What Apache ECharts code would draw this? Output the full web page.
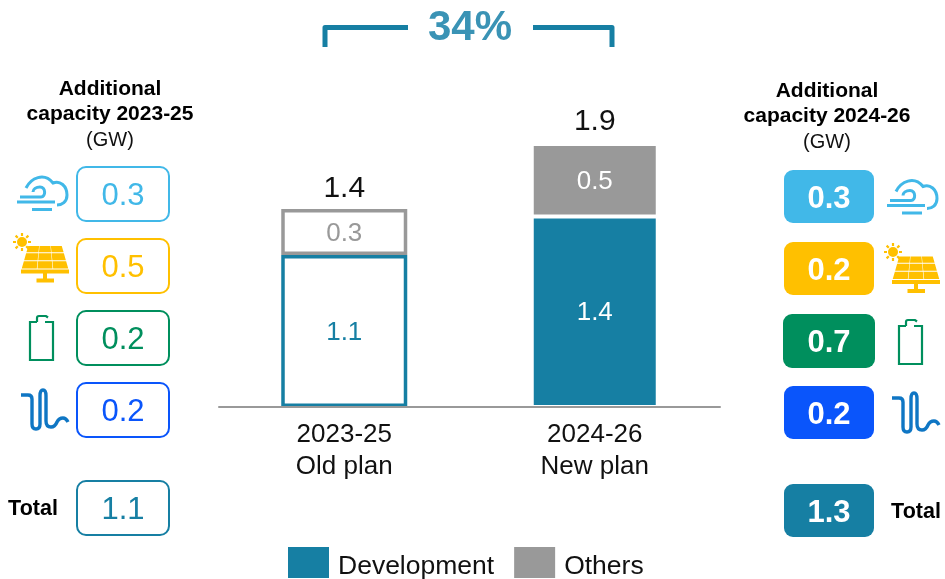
<!DOCTYPE html>
<html><head><meta charset="utf-8">
<style>html,body{margin:0;padding:0;background:#fff}#c{width:945px;height:579px}</style>
<script src="https://cdn.jsdelivr.net/npm/echarts@6/dist/echarts.min.js"></script>
</head><body><div id="c"></div>
<script>
const categories = ['2023-25\nOld plan', '2024-26\nNew plan'];
const development = [1.11, 1.39];
const others = [0.335, 0.53];
const totals = [1.445, 1.92];
const growthLabel = '34%';
const leftValues = ['0.3', '0.5', '0.2', '0.2', '1.1'];
const rightValues = ['0.3', '0.2', '0.7', '0.2', '1.3'];
const techColors = ['#41b8e8', '#ffc000', '#008f5d', '#0a55fb', '#167fa3'];
const leftTitle = ['Additional', 'capacity 2023-25', '(GW)'];
const rightTitle = ['Additional', 'capacity 2024-26', '(GW)'];
const totalLabel = 'Total';

const TEAL = '#167fa3', GREY = '#999999', FONT = '"Liberation Sans", Arial, sans-serif';
const g = [];
function txt(text, x, y, size, fill, weight) {
  g.push({type:'text', silent:true, style:{text, x, y, align:'center', verticalAlign:'middle',
    font:(weight||'normal')+' '+size+'px '+FONT, fill}});
}
let iconCount = 0;
const iconTypes = {};
function icon(d, dx, dy, style) {
  if (!iconTypes[d]) {
    iconTypes[d] = 'resketchIcon' + (iconCount++);
    echarts.graphic.registerShape(iconTypes[d], echarts.graphic.extendPath(d, {}));
  }
  g.push({type:iconTypes[d], silent:true, x:dx, y:dy, shape:{}, style});
}
const leftY = [167, 239, 311, 383, 481];
const rightY = [170, 242, 314, 386, 484];
leftValues.forEach((v, i) => {
  g.push({type:'rect', silent:true, shape:{x:77, y:leftY[i], width:92, height:54, r:9},
    style:{fill:'#fff', stroke:techColors[i], lineWidth:2}});
  txt(v, 123, leftY[i]+29, 31, techColors[i]);
});
rightValues.forEach((v, i) => {
  const big = i === 2;
  g.push({type:'rect', silent:true, shape:{x:big?783:784, y:rightY[i], width:big?92:90, height:big?54:53, r:9},
    style:{fill:techColors[i]}});
  txt(v, 829, rightY[i]+29.5, 31, '#fff', 'bold');
});
leftTitle.forEach((t, i) => txt(t, 110, 89+i*25.5, i===2?20:21, i===2?'#111':'#000', i===2?'normal':'bold'));
rightTitle.forEach((t, i) => txt(t, 827, 91+i*25.5, i===2?20:21, i===2?'#111':'#000', i===2?'normal':'bold'));
txt(totalLabel, 33, 509, 21.5, '#000', 'bold');
txt(totalLabel, 916, 512, 21.5, '#000', 'bold');

txt(growthLabel, 470, 28, 42, '#3a93b5', 'bold');
g.push({type:'polyline', silent:true, shape:{points:[[325,47],[325,27.5],[408,27.5]]}, style:{stroke:TEAL, lineWidth:5, fill:null, lineJoin:'round'}});
g.push({type:'polyline', silent:true, shape:{points:[[533,27.5],[612,27.5],[612,47]]}, style:{stroke:TEAL, lineWidth:5, fill:null, lineJoin:'round'}});

const cloud = 'M26,188 C31,178 44,172 53,183 C60,180 67,186 67,195 C67,202 62,205 57,205 M20,197 L41,197 C46,197 46,187 40,187 C36,187 33,189 33,192 M17,202 L55,202 M32,209.5 L52,209.5';
const cellsD = (() => {
  const rows = [[246,252.3],[253.3,260.2],[261.2,268.5]], out = [];
  const xAt = (y, side) => side < 0 ? 28 - (y-246)*7/24 : 62 + (y-246)*7/24;
  rows.forEach(r => {
    for (let c = 0; c < 3; c++) {
      const at = (y, f) => xAt(y,-1) + (xAt(y,1)-xAt(y,-1))*f;
      const a = (c+0.02)/3, b = (c+0.98)/3;
      out.push(`M${at(r[0],a)},${r[0]} L${at(r[0],b)},${r[0]} L${at(r[1],b)},${r[1]} L${at(r[1],a)},${r[1]} Z`);
    }
  });
  out.push('M21,269.5 L69,269.5 L69,273.5 L21,273.5 Z M43,273.5 L47,273.5 L47,278.5 L54,278.5 L54,282.5 L36.5,282.5 L36.5,278.5 L43,278.5 Z');
  return out.join(' ');
})();
const sunBody = 'M17,242 A5,5 0 1 1 27,242 A5,5 0 1 1 17,242 Z';
const sunRays = 'M22,233 L22,236 M22,248 L22,251 M13,242 L16,242 M28,242 L31,242 M15.6,235.6 L17.8,237.8 M26.2,246.2 L28.4,248.4 M15.6,248.4 L17.8,246.2 M26.2,237.8 L28.4,235.6';
const battery = 'M37,322 L30,322 L30,360 L53,360 L53,322 L45,322 M37,322 L37,318 Q37,316 39,316 L46,316 L48,317.5';
const pipe = 'M21,395 L28,395 Q32,395 32,399 L32,424 Q32,429 36,429 Q40,429 40,424 L40,396 Q40,390 43,390 Q46,390 46,396 L46,421 Q46,427 51,427 Q55,427 57,422 Q59,418 63,418 Q66,418 68,422';
const drawIcons = (d) => {
  const s = (c, w) => ({fill:null, stroke:c, lineWidth:w});
  icon(cloud, d[0][0], d[0][1], s(techColors[0], 3));
  icon(cellsD, d[1][0], d[1][1], {fill:techColors[1]});
  icon(sunBody, d[1][0], d[1][1]+d[1][2], {fill:techColors[1]});
  icon(sunRays, d[1][0], d[1][1]+d[1][2], s(techColors[1], 2.2));
  icon(battery, d[2][0], d[2][1], s(techColors[2], 2.2));
  icon(pipe, d[3][0], d[3][1], s('#0f76c4', 3.4));
};
drawIcons([[0,0],[0,0,0],[0,0],[0,0]]);
drawIcons([[870,3.5],[871,10.5,-0.5],[869,4],[871,3]]);

const barLabel = (color) => ({show:true, position:'inside', offset:[0,1.5], fontSize:26, fontFamily:FONT, color,
  formatter:p => p.value.toFixed(1)});
const chart = echarts.init(document.getElementById('c'), null, {renderer:'canvas'});
chart.setOption({
  animation:false,
  backgroundColor:'#fff',
  graphic:{elements:g},
  legend:{left:288, top:547, padding:0, itemWidth:41, itemHeight:31, itemGap:20,
    data:['Development','Others'], icon:'rect',
    formatter:n => '{a|' + n + '}',
    textStyle:{fontSize:26.5, fontFamily:FONT, color:'#111', padding:[0,0,0,4],
      rich:{a:{fontSize:26.5, fontFamily:FONT, color:'#111', padding:[8,0,0,0]}}}},
  grid:{left:219, width:501, top:64.5, height:342.5},
  xAxis:{type:'category', data:categories,
    axisLine:{lineStyle:{color:GREY, width:2}}, axisTick:{show:false},
    axisLabel:{fontSize:26, lineHeight:32, fontFamily:FONT, color:'#111', margin:12}, z:5},
  yAxis:{type:'value', min:0, max:2.5, show:false, splitLine:{show:false}},
  series:[
    {name:'Development', type:'bar', stack:'a', barWidth:126, itemStyle:{color:TEAL},
      data:[
        {value:development[0], itemStyle:{color:'#fff', borderColor:TEAL, borderWidth:3.5}, label:barLabel(TEAL)},
        {value:development[1], itemStyle:{color:TEAL, borderColor:'#fff', borderWidth:2}, label:barLabel('#fff')}
      ]},
    {name:'Others', type:'bar', stack:'a', barWidth:126, itemStyle:{color:GREY},
      data:[
        {value:others[0], itemStyle:{color:'#fff', borderColor:GREY, borderWidth:3.5}, label:barLabel(GREY)},
        {value:others[1], itemStyle:{color:GREY, borderColor:'#fff', borderWidth:2}, label:barLabel('#fff')}
      ]},
    {name:'Total', type:'line', symbol:'circle', symbolSize:1, silent:true,
      data:totals.map((v, i) => ({value:v, label:{distance:[5, 7][i]}})),
      lineStyle:{width:0, color:'transparent'}, itemStyle:{color:'transparent'},
      label:{show:true, position:'top', fontSize:30, fontFamily:FONT, color:'#111',
        formatter:p => p.value.toFixed(1)}, z:6}
  ]
});
</script></body></html>
